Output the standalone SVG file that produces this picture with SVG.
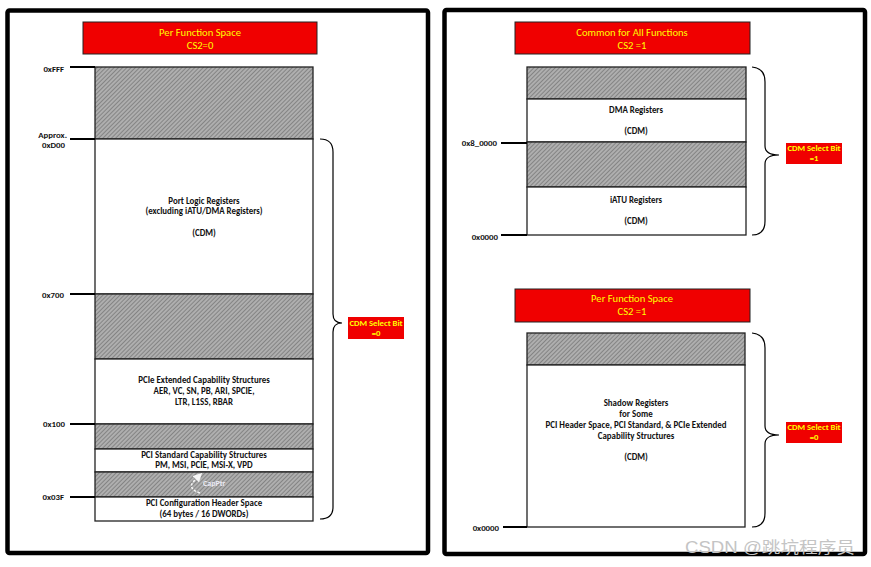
<svg xmlns="http://www.w3.org/2000/svg" width="871" height="567" viewBox="0 0 871 567">
<style>
.panel{fill:#fff;stroke:#000;stroke-width:4.5}
.title{fill:#f00000;stroke:#222;stroke-width:1}
.ttxt{font-family:Carlito,"Liberation Sans",Arial,sans-serif;font-size:10.6px;fill:#ffff00;text-anchor:middle}
.wbox{fill:#fff;stroke:#222;stroke-width:1.3}
.hbox{fill:url(#hatch);stroke:#222;stroke-width:1.3}
.txt{font-family:Carlito,"Liberation Sans",Arial,sans-serif;font-size:8.9px;font-weight:bold;fill:#111;text-anchor:middle}
.addr{font-family:Carlito,"Liberation Sans",Arial,sans-serif;font-size:8.8px;font-weight:bold;fill:#111;text-anchor:end}
.cdm{fill:#f00000}
.ctxt{font-family:Carlito,"Liberation Sans",Arial,sans-serif;font-size:8.7px;font-weight:bold;fill:#ffff00;text-anchor:middle}
.tick{stroke:#000;stroke-width:2;fill:none}
.brace{stroke:#000;stroke-width:1.2;fill:none}
</style>
<defs>
<pattern id="hatch" width="3" height="3" patternUnits="userSpaceOnUse" patternTransform="rotate(45)">
<rect width="3" height="3" fill="#848484"/>
<line x1="1" y1="0" x2="1" y2="3" stroke="#d2d2d2" stroke-width="1.1"/>
</pattern>
<marker id="wArrow" markerWidth="6" markerHeight="6" refX="3" refY="3" orient="auto">
<path d="M0,0 L6,3 L0,6 Z" fill="#fff"/>
</marker>
</defs>

<rect class="panel" x="7.5" y="10.5" width="420.5" height="542.5" rx="2"/>
<rect class="panel" x="444.5" y="10" width="420.5" height="544" rx="2"/>

<!-- Left panel -->
<g id="title-left">
<rect class="title" x="83" y="22" width="234" height="32"/>
<text class="ttxt" x="200" y="35.5">Per Function Space</text>
<text class="ttxt" x="200" y="48.5">CS2=0</text>
</g>
<g id="reserved-top-left">
<rect class="hbox" x="95" y="67" width="218" height="72"/>
</g>
<g id="port-logic">
<rect class="wbox" x="95" y="139" width="218" height="155"/>
<text class="txt" x="204" y="204">Port Logic Registers</text>
<text class="txt" x="204" y="214">(excluding iATU/DMA Registers)</text>
<text class="txt" x="204" y="236">(CDM)</text>
</g>
<g id="reserved-mid-left">
<rect class="hbox" x="95" y="294" width="218" height="65"/>
</g>
<g id="pcie-ext">
<rect class="wbox" x="95" y="359" width="218" height="65"/>
<text class="txt" x="204" y="383">PCIe Extended Capability Structures</text>
<text class="txt" x="204" y="394">AER, VC, SN, PB, ARI, SPCIE,</text>
<text class="txt" x="204" y="405">LTR, L1SS, RBAR</text>
</g>
<g id="reserved-low-left">
<rect class="hbox" x="95" y="424" width="218" height="25"/>
</g>
<g id="pci-std">
<rect class="wbox" x="95" y="449" width="218" height="23"/>
<text class="txt" x="204" y="458">PCI Standard Capability Structures</text>
<text class="txt" x="204" y="468">PM, MSI, PCIE, MSI-X, VPD</text>
</g>
<g id="capptr">
<rect class="hbox" x="95" y="472" width="218" height="25"/>
<path d="M200,493 Q188,489 193,482 L199,476" stroke="#fff" stroke-width="1.5" stroke-dasharray="2.5,1.5" fill="none" opacity="0.9" marker-end="url(#wArrow)"/>
<text x="203" y="486" font-family="Carlito,'Liberation Sans',Arial,sans-serif" font-size="8px" font-weight="bold" fill="#f4f4ff" opacity="0.9">CapPtr</text>
</g>
<g id="pci-config">
<rect class="wbox" x="95" y="497" width="218" height="24"/>
<text class="txt" x="204" y="506">PCI Configuration Header Space</text>
<text class="txt" x="204" y="517">(64 bytes / 16 DWORDs)</text>
</g>
<g id="addr-left">
<text class="addr" x="64" y="72">0xFFF</text>
<text class="addr" x="67" y="138">Approx.</text>
<text class="addr" x="65" y="148">0xD00</text>
<text class="addr" x="64" y="297.5">0x700</text>
<text class="addr" x="65" y="426.5">0x100</text>
<text class="addr" x="64" y="499.5">0x03F</text>
</g>
<g id="cdm-left">
<rect class="cdm" x="348" y="317" width="56" height="22"/>
<text class="ctxt" x="376" y="326">CDM Select Bit</text>
<text class="ctxt" x="376" y="336">=0</text>
</g>

<!-- Right top -->
<g id="title-right-top">
<rect class="title" x="515" y="22" width="235" height="32"/>
<text class="ttxt" x="632" y="35.5">Common for All Functions</text>
<text class="ttxt" x="632" y="48.5">CS2 =1</text>
</g>
<g id="reserved-rt1">
<rect class="hbox" x="527" y="67" width="219" height="32"/>
</g>
<g id="dma">
<rect class="wbox" x="527" y="99" width="219" height="43"/>
<text class="txt" x="636" y="113">DMA Registers</text>
<text class="txt" x="636" y="134">(CDM)</text>
</g>
<g id="reserved-rt2">
<rect class="hbox" x="527" y="142" width="219" height="45"/>
</g>
<g id="iatu">
<rect class="wbox" x="527" y="187" width="219" height="48"/>
<text class="txt" x="636" y="203">iATU Registers</text>
<text class="txt" x="636" y="224">(CDM)</text>
</g>
<g id="addr-right-top">
<text class="addr" x="497" y="146">0x8_0000</text>
<text class="addr" x="498" y="239.5">0x0000</text>
</g>
<g id="cdm-right-top">
<rect class="cdm" x="786" y="143" width="56" height="21"/>
<text class="ctxt" x="814" y="151">CDM Select Bit</text>
<text class="ctxt" x="814" y="161">=1</text>
</g>

<!-- Right bottom -->
<g id="title-right-bottom">
<rect class="title" x="515" y="289" width="235" height="33"/>
<text class="ttxt" x="632" y="302">Per Function Space</text>
<text class="ttxt" x="632" y="315">CS2 =1</text>
</g>
<g id="reserved-rb">
<rect class="hbox" x="527" y="333" width="218" height="32"/>
</g>
<g id="shadow">
<rect class="wbox" x="527" y="365" width="218" height="162"/>
<text class="txt" x="636" y="406">Shadow Registers</text>
<text class="txt" x="636" y="417">for Some</text>
<text class="txt" x="636" y="428">PCI Header Space, PCI Standard, &amp; PCIe Extended</text>
<text class="txt" x="636" y="439">Capability Structures</text>
<text class="txt" x="636" y="460">(CDM)</text>
</g>
<g id="addr-right-bottom">
<text class="addr" x="499" y="531">0x0000</text>
</g>
<g id="cdm-right-bottom">
<rect class="cdm" x="786" y="422" width="56" height="21"/>
<text class="ctxt" x="814" y="430">CDM Select Bit</text>
<text class="ctxt" x="814" y="440">=0</text>
</g>

<g id="connectors">
<line class="tick" x1="70" y1="67" x2="95" y2="67"/>
<line class="tick" x1="70" y1="139" x2="95" y2="139"/>
<line class="tick" x1="70" y1="294" x2="95" y2="294"/>
<line class="tick" x1="70" y1="424" x2="95" y2="424"/>
<line class="tick" x1="70" y1="497" x2="95" y2="497"/>
<line class="tick" x1="501" y1="143" x2="527" y2="143"/>
<line class="tick" x1="501" y1="235" x2="527" y2="235"/>
<line class="tick" x1="503" y1="527" x2="527" y2="527"/>
<path class="brace" d="M320,139 Q333,139 333,152 L333,314 Q333,323 342,323 Q333,323 333,332 L333,507 Q333,519 320,519"/>
<path class="brace" d="M752,67 Q765,68 765,82 L765,146 Q765,155 779,155 Q765,155 765,164 L765,221 Q765,235 752,235"/>
<path class="brace" d="M752,333 Q765,334 765,348 L765,426 Q765,435 779,435 Q765,435 765,444 L765,513 Q765,527 752,527"/>
</g>

<text x="685" y="553" font-family="'Liberation Sans','Noto Sans CJK SC',sans-serif" font-size="16px" fill="#c4c4c4" textLength="170" lengthAdjust="spacingAndGlyphs">CSDN @跳坑程序员</text>
</svg>
